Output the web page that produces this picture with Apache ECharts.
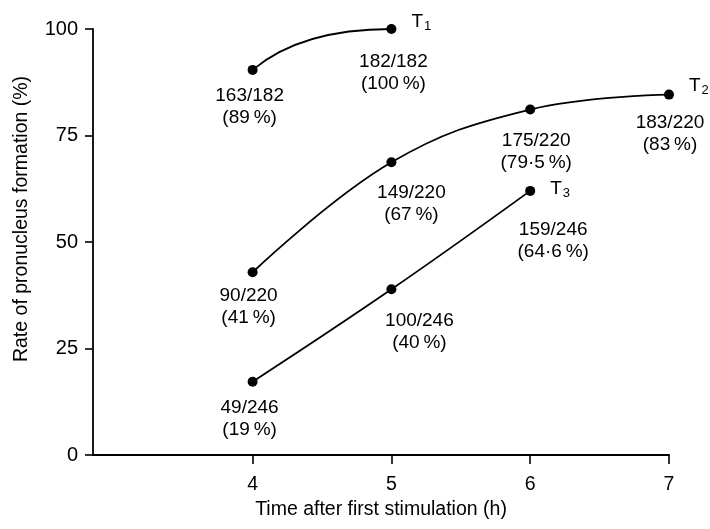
<!DOCTYPE html>
<html>
<head>
<meta charset="utf-8">
<script src="https://cdn.jsdelivr.net/npm/echarts@6/dist/echarts.min.js"></script>
<style>
html,body{margin:0;padding:0;background:#fff;}
#chart{width:710px;height:529px;}
</style>
</head>
<body>
<div id="chart"></div>
<script>
// ---- data ----
var hours = [4, 5, 6, 7];
var xTicks = [4, 5, 6, 7];
var yTicks = [0, 25, 50, 75, 100];
var t1Values = [90.4, 100];
var t2Values = [42.9, 68.7, 81.1, 84.6];
var t3Values = [17.2, 38.9, 62.0];
var t1Labels = ['163/182', '182/182'];
var t1Pct = ['89\u2009%', '100\u2009%'];
var t2Labels = ['90/220', '149/220', '175/220', '183/220'];
var t2Pct = ['41\u2009%', '67\u2009%', '79\u00B75\u2009%', '83\u2009%'];
var t3Labels = ['49/246', '100/246', '159/246'];
var t3Pct = ['19\u2009%', '40\u2009%', '64\u00B76\u2009%'];
var seriesNames = ['1', '2', '3'];

// ---- styling ----
var FONT = '"Liberation Sans", Arial, sans-serif';
var t1Off = [[-3, 10], [2, 17]];
var t2Off = [[-4, 8], [20, 14], [6, 15], [1, 12]];
var t3Off = [[-3, 10], [28, 15], [23, 23]];

function pts(vals, labels, pcts, offs) {
  return vals.map(function (v, i) {
    return {
      value: [hours[i], v],
      label: {
        formatter: labels[i] + '\n(' + pcts[i] + ')',
        offset: offs[i]
      }
    };
  });
}

var pointLabel = {
  show: true,
  position: 'bottom',
  distance: 0,
  color: '#000',
  fontFamily: FONT,
  fontSize: 19,
  lineHeight: 22,
  align: 'center'
};

function endLabel(idx, off) {
  return {
    show: true,
    formatter: 'T{s|' + seriesNames[idx] + '}',
    color: '#000',
    fontFamily: FONT,
    fontSize: 19,
    distance: 20,
    offset: off,
    rich: {
      s: { fontSize: 13, fontFamily: FONT, color: '#000', padding: [9, 0, 0, 1] }
    }
  };
}

function lineSeries(name, vals, labels, pcts, offs, idx, endOff, drawLine) {
  return {
    type: 'line',
    name: name,
    data: pts(vals, labels, pcts, offs),
    smooth: 0.4,
    symbol: 'circle',
    symbolSize: 10,
    itemStyle: { color: '#000' },
    lineStyle: { color: '#000', width: drawLine ? 1.8 : 0, opacity: drawLine ? 1 : 0 },
    label: pointLabel,
    endLabel: endLabel(idx, endOff),
    z: 3,
    animation: false
  };
}

var chart = echarts.init(document.getElementById('chart'), null, { renderer: 'canvas' });

var option = {
  backgroundColor: '#fff',
  animation: false,
  grid: { left: 93, right: 41, top: 29, bottom: 74, containLabel: false },
  xAxis: {
    type: 'value',
    min: 2.85,
    max: 7,
    name: 'Time after first stimulation (h)',
    nameLocation: 'middle',
    nameGap: 34,
    nameTextStyle: { color: '#000', fontFamily: FONT, fontSize: 19.5 },
    axisLine: { show: true, onZero: false, lineStyle: { color: '#000', width: 2 } },
    axisTick: { show: true, inside: false, length: 9, customValues: xTicks, lineStyle: { color: '#000', width: 1.6 } },
    axisLabel: { show: true, customValues: xTicks, color: '#000', fontFamily: FONT, fontSize: 19.5, margin: 20 },
    splitLine: { show: false }
  },
  yAxis: {
    type: 'value',
    min: 0,
    max: 100,
    interval: 25,
    name: 'Rate of pronucleus formation (%)',
    nameLocation: 'middle',
    nameGap: 61,
    nameRotate: 90,
    nameTextStyle: { color: '#000', fontFamily: FONT, fontSize: 19.5, padding: [0, 0, 0, 46] },
    axisLine: { show: true, onZero: false, lineStyle: { color: '#000', width: 1.8 } },
    axisTick: { show: true, inside: false, length: 8, customValues: yTicks, lineStyle: { color: '#000', width: 1.6 } },
    axisLabel: { show: true, customValues: yTicks, color: '#000', fontFamily: FONT, fontSize: 20, margin: 15 },
    splitLine: { show: false }
  },
  series: [
    {
      type: 'custom',
      name: 'T1 curve',
      data: [[hours[0], t1Values[0]]],
      z: 2,
      silent: true,
      renderItem: function (params, api) {
        var p0 = api.coord([hours[0], t1Values[0]]);
        var p1 = api.coord([hours[1], t1Values[1]]);
        return {
          type: 'bezierCurve',
          shape: {
            x1: p0[0], y1: p0[1], x2: p1[0], y2: p1[1],
            cpx1: p0[0] + 0.35 * (p1[0] - p0[0]), cpy1: p1[1]
          },
          style: { stroke: '#000', lineWidth: 1.8, fill: null }
        };
      }
    },
    lineSeries('T1', t1Values, t1Labels, t1Pct, t1Off, 0, [0, -7], false),
    lineSeries('T2', t2Values, t2Labels, t2Pct, t2Off, 1, [0, -9], true),
    lineSeries('T3', t3Values, t3Labels, t3Pct, t3Off, 2, [0, -2], true)
  ]
};
chart.setOption(option);
</script>
</body>
</html>
